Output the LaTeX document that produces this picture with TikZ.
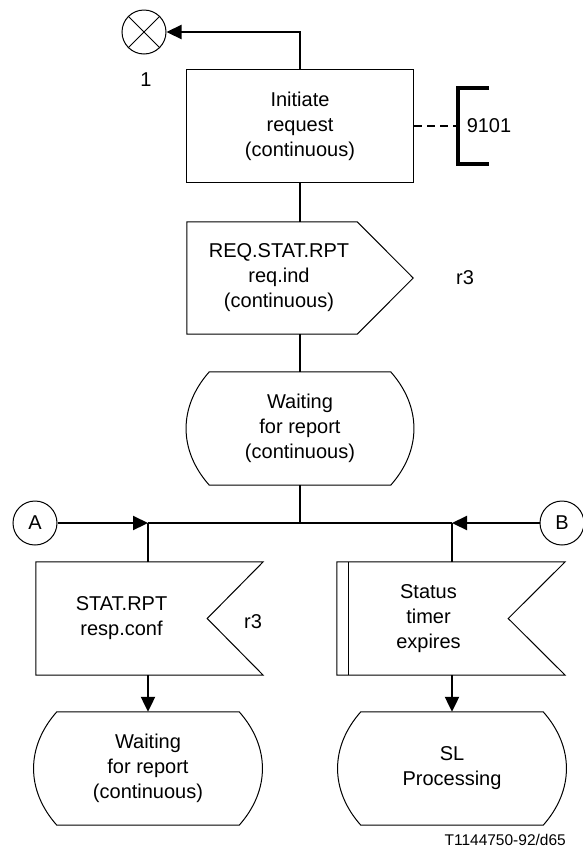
\documentclass[tikz,border=0pt]{standalone}
\usepackage{fontspec}
\setmainfont{Liberation Sans}
\usetikzlibrary{arrows.meta}
\tikzset{
  flow/.style={line width=2.2pt},
  outline/.style={line width=1pt},
  tip/.style={-{Triangle[length=15pt,width=14pt]}},
  conn/.style={circle, draw, line width=1pt, minimum size=44pt},
  shp/.style={minimum width=#1, minimum height=113pt}
}

\begin{document}
\begin{tikzpicture}[x=1pt, y=-1pt, every node/.style={font=\fontsize{20}{25}\selectfont, align=center, inner sep=0pt}]
  \useasboundingbox (0,0) rectangle (582,852);
  % connector 1 and task
  \node[conn] (c1) at (144,32) {};
  \draw[outline] (c1.north west) -- (c1.south east);
  \draw[outline] (c1.north east) -- (c1.south west);
  \node (one) at (146,80) {1};
  \node[shp=227pt, draw, outline] (task) at (300,126) {Initiate\\request\\(continuous)};
  \draw[flow,tip] (task.north) |- (c1);
  \node[minimum width=62pt, minimum height=76pt] (ref) at (489,126) {9101};
  \draw[line width=3.5pt] (ref.north) -- (ref.north west) -- (ref.south west) -- (ref.south);
  \draw[line width=1.8pt, dash pattern=on 8pt off 5pt] (task.east) -- (ref.west);
  % output signal
  \node[minimum width=184pt, minimum height=112pt] (req) at (279,278) {REQ.STAT.RPT\\req.ind\\(continuous)};
  \draw[outline] (req.north west) -- ([xshift=-14pt]req.north east) -- ([xshift=42pt]req.east)
    -- ([xshift=-14pt]req.south east) -- (req.south west) -- cycle;
  \node (r3a) at (465,278) {r3};
  % states
  \node[shp=181pt] (st1) at (300,428.5) {Waiting\\for report\\(continuous)};
  \node[shp=182pt] (st2) at (148,768.5) {Waiting\\for report\\(continuous)};
  \node[shp=182pt] (st3) at (452,768.5) {SL\\Processing};
  \foreach \s in {st1,st2,st3}
    \draw[outline] (\s.north west) -- (\s.north east) .. controls +(31,35) and +(31,-35) .. (\s.south east)
      -- (\s.south west) .. controls +(-31,-35) and +(-31,35) .. cycle;
  \draw[flow] (task.south) -- (task.south |- req.north);
  \draw[flow] (task.south |- req.south) -- (st1.north);
  % bus with connectors A and B
  \coordinate (jA) at (148,523);
  \coordinate (jM) at (300,523);
  \coordinate (jB) at (452,523);
  \node[conn] (A) at (35,523) {A};
  \node[conn] (B) at (562,523) {B};
  \draw[flow] (st1.south) -- (jM);
  \draw[flow] (jA) -- (jB);
  \draw[flow,tip] (A) -- (jA);
  \draw[flow,tip] (B) -- (jB);
  % input signal and timer
  \node[minimum width=171pt, minimum height=113pt] (inA) at (121.5,618.5) {STAT.RPT\\resp.conf};
  \draw[outline] (inA.north west) -- ([xshift=56pt]inA.north east) -- (inA.east)
    -- ([xshift=56pt]inA.south east) -- (inA.south west) -- cycle;
  \node (r3b) at (253,622) {r3};
  \node[minimum width=159pt, minimum height=113pt] (tmr) at (428.5,618.5) {Status\\timer\\expires};
  \draw[outline] ([xshift=-12pt]tmr.north west) -- ([xshift=57pt]tmr.north east) -- (tmr.east)
    -- ([xshift=57pt]tmr.south east) -- ([xshift=-12pt]tmr.south west) -- cycle;
  \draw[outline] (tmr.north west) -- (tmr.south west);
  \draw[flow] (jA) -- (jA |- inA.north);
  \draw[flow] (jB) -- (jB |- tmr.north);
  \draw[flow,tip] (jA |- inA.south) -- (st2.north);
  \draw[flow,tip] (jB |- tmr.south) -- (st3.north);
  \node[anchor=east, font=\fontsize{15.5}{18}\selectfont] (fig) at (566,840) {T1144750-92/d65};
\end{tikzpicture}
\end{document}
